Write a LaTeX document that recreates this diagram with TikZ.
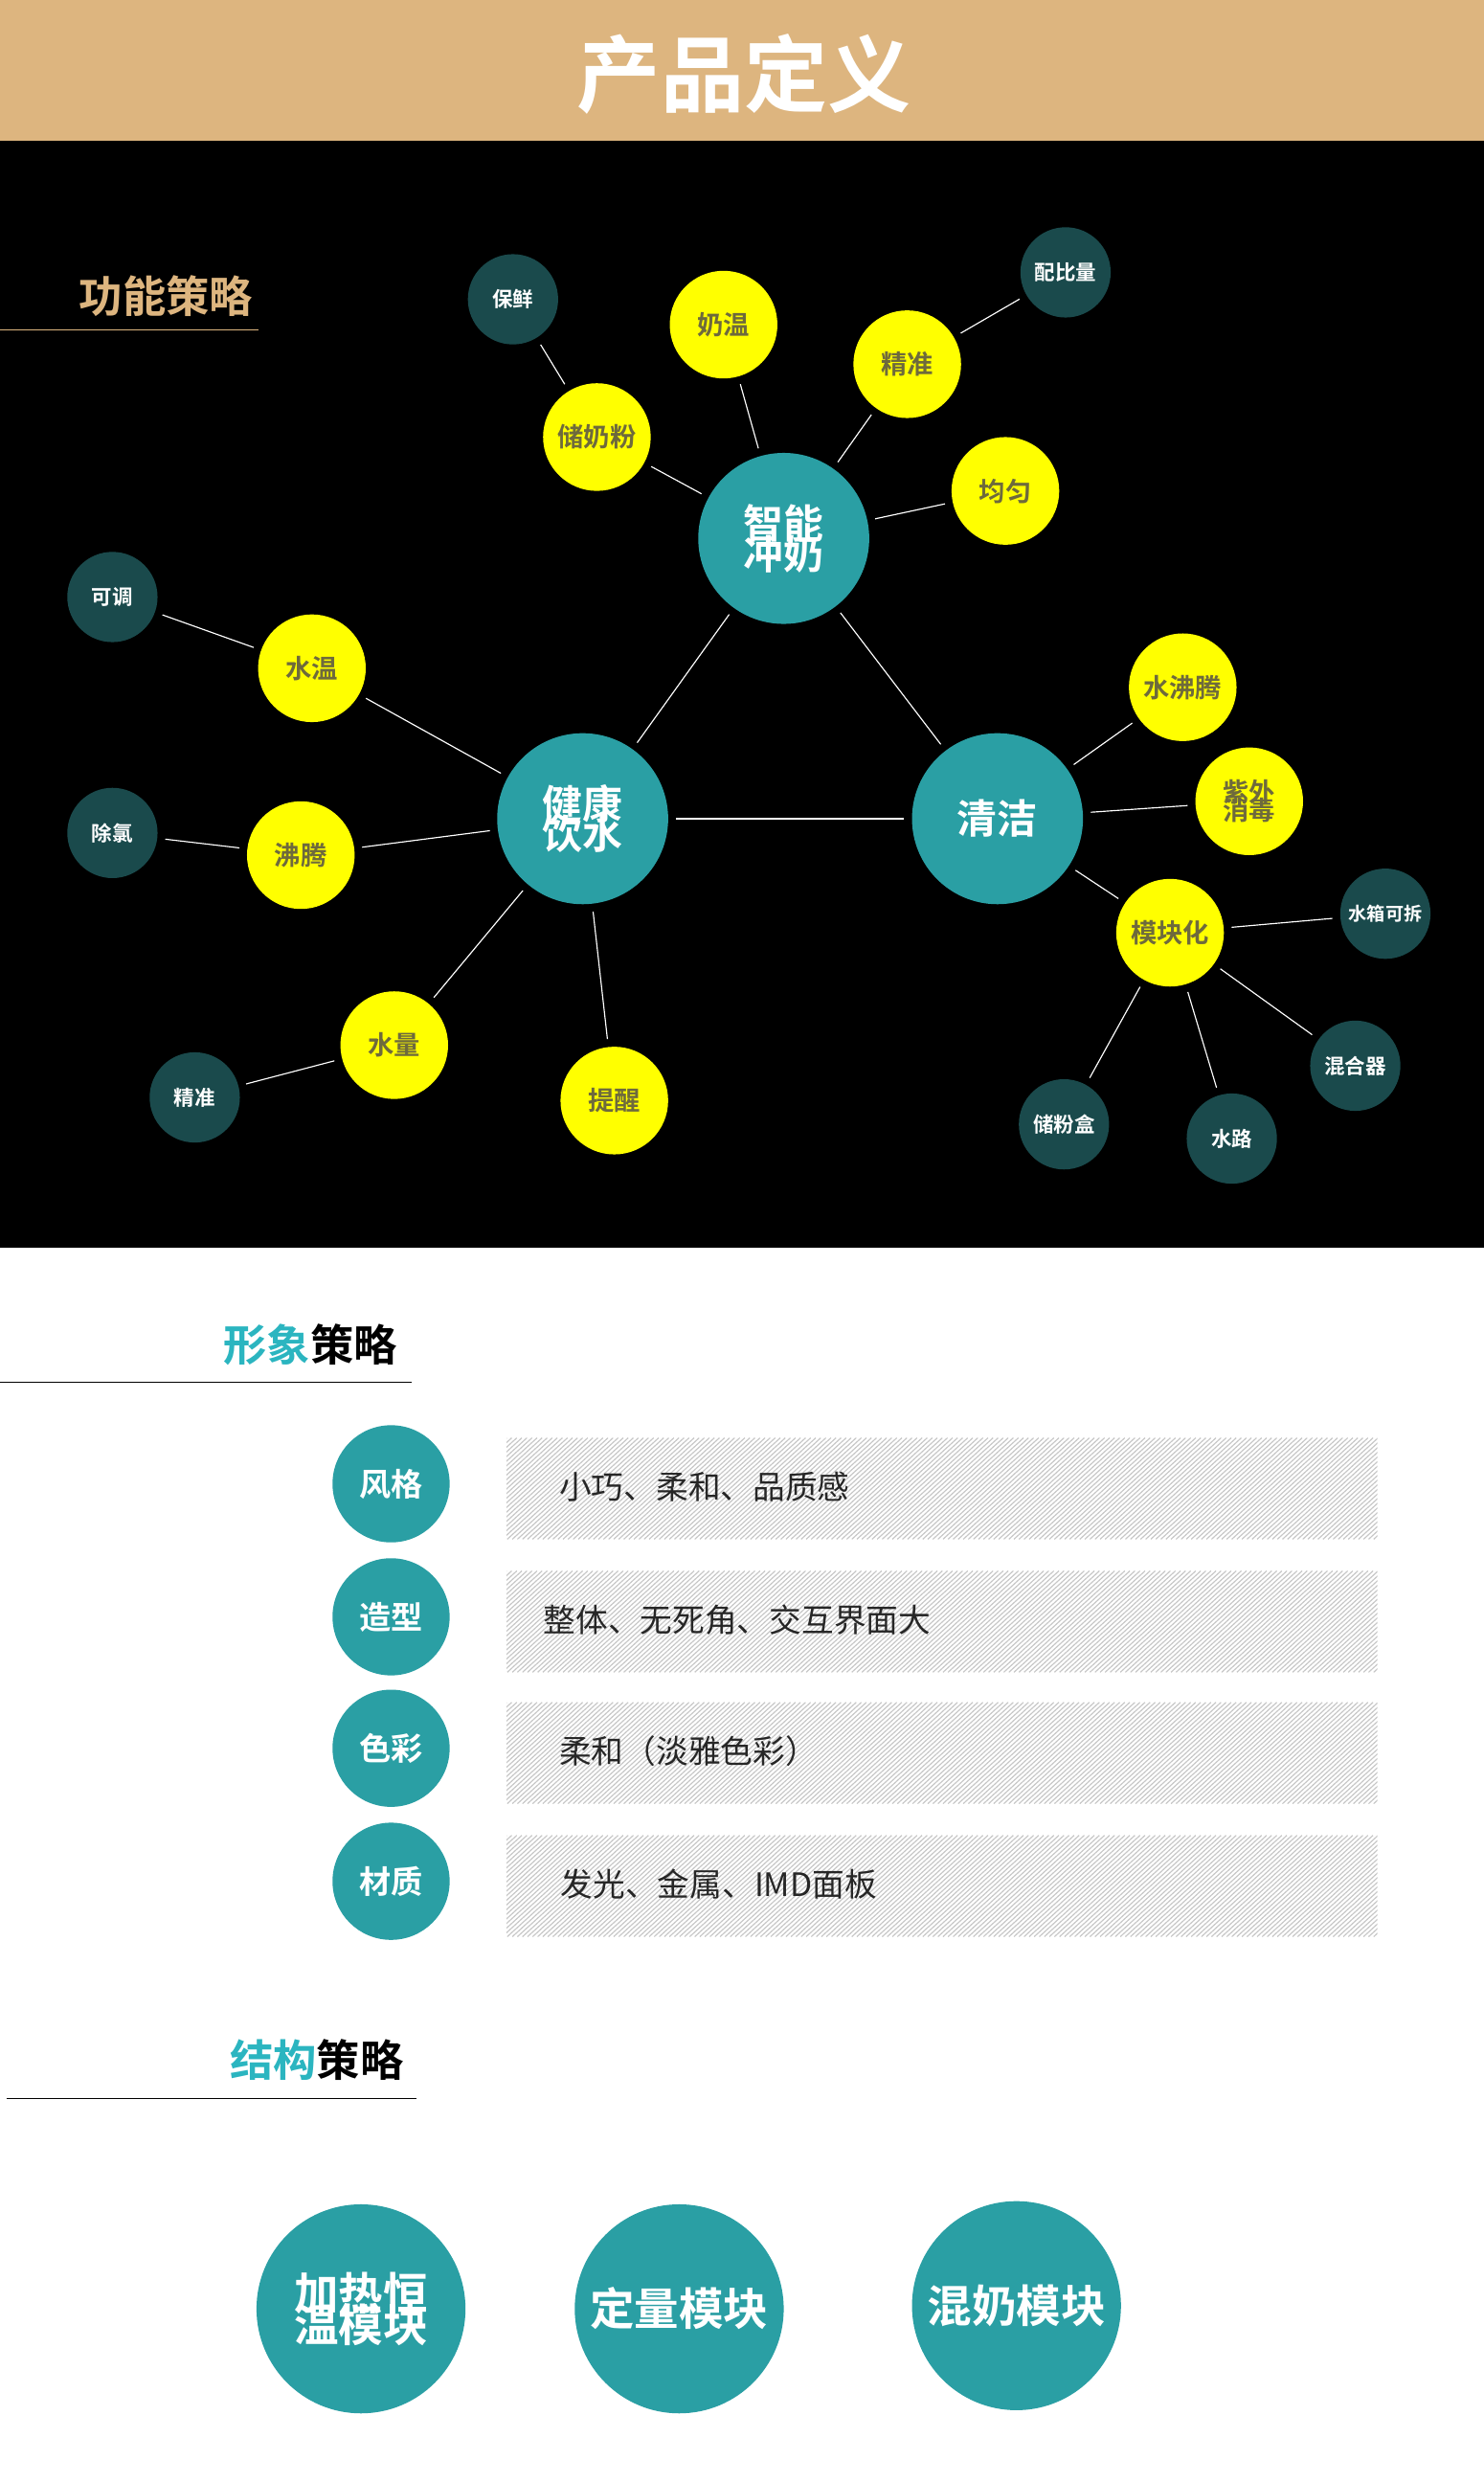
\documentclass[tikz,border=0pt]{standalone}
\usepackage{fontspec}
\setmainfont{Noto Sans CJK SC}[BoldFont={Noto Sans CJK SC Bold}]
\definecolor{tan}{HTML}{DDB57F}
\definecolor{teal}{HTML}{2A9FA4}
\definecolor{dteal}{HTML}{1A4A4C}
\definecolor{ylw}{HTML}{FFFF00}
\definecolor{ytxt}{HTML}{6E6A3C}
\definecolor{ltitle}{HTML}{2BB5C0}
\newcommand{\fsz}[1]{\fontsize{#1pt}{#1pt}\selectfont}
\begin{document}
\begin{tikzpicture}[x=1mm,y=-1mm,
 big/.style={circle,fill=teal,minimum size=108mm,inner sep=0,text=white,font=\fsz{72}\bfseries,align=center},
 yel/.style={circle,fill=ylw,minimum size=68mm,inner sep=0,text=ytxt,font=\fsz{47}\bfseries,align=center},
 drk/.style={circle,fill=dteal,minimum size=57mm,inner sep=0,text=white,font=\fsz{37}\bfseries,align=center},
 lnk/.style={draw=white,line width=0.7mm,shorten >=5mm,shorten <=5mm},
 rowc/.style={circle,fill=teal,minimum size=74mm,inner sep=0,text=white,font=\fsz{57}\bfseries},
 rowt/.style={anchor=west,font=\fsz{58},text=black!85},
 botc/.style={circle,fill=teal,minimum size=132mm,inner sep=0,text=white,font=\fsz{80}\bfseries,align=center}]
\useasboundingbox (0,0) rectangle (937,1568);
\fill[white] (0,0) rectangle (937,1568);
\fill[tan] (0,0) rectangle (937,89);
\node[text=white,font=\fsz{150}\bfseries] (title) at (470,47) {产品定义};
\fill[black] (0,89) rectangle (937,788);
\node[text=tan,font=\fsz{78}\bfseries] (t1) at (105,187) {功能策略};
\draw[tan,line width=0.5mm] (0,208) -- (163,208);
% big
\node[big] (zn) at (495,340) {智能\\[-6mm]冲奶};
\node[big] (jk) at (368,517) {健康\\[-6mm]饮水};
\node[big] (qj) at (630,517) {清洁};
% yellow
\node[yel] (nw) at (457,205) {奶温};
\node[yel] (cnf) at (377,276) {储奶粉};
\node[yel] (jz1) at (573,230) {精准};
\node[yel] (jy) at (635,310) {均匀};
\node[yel] (sw) at (197,422) {水温};
\node[yel] (ft) at (190,540) {沸腾};
\node[yel] (sl) at (249,660) {水量};
\node[yel] (tx) at (388,695) {提醒};
\node[yel] (sft) at (747,434) {水沸腾};
\node[yel] (zw) at (789,506) {紫外\\[-5mm]消毒};
\node[yel] (mk) at (739,589) {模块化};
% dark
\node[drk] (bx) at (324,189) {保鲜};
\node[drk] (pbl) at (673,172) {配比量};
\node[drk] (kt) at (71,377) {可调};
\node[drk] (cl) at (71,526) {除氯};
\node[drk] (jz2) at (123,693) {精准};
\node[drk,font=\fsz{33}\bfseries] (sxk) at (875,577) {水箱可拆};
\node[drk] (hhq) at (856,673) {混合器};
\node[drk] (cfh) at (672,710) {储粉盒};
\node[drk] (sl2) at (778,719) {水路};
% links
\foreach \a/\b in {zn/jk,zn/qj,jk/qj,zn/nw,zn/cnf,zn/jz1,zn/jy,cnf/bx,jz1/pbl,jk/sw,jk/ft,jk/sl,jk/tx,sw/kt,ft/cl,sl/jz2,qj/sft,qj/zw,qj/mk,mk/sxk,mk/hhq,mk/cfh,mk/sl2}
  \draw[lnk] (\a) -- (\b);
% section 2
\node[font=\fsz{78}\bfseries] (t2) at (196,849) {\textcolor{ltitle}{形象}策略};
\draw[black,line width=0.5mm] (0,873) -- (260,873);
\foreach \y/\nm/\txt/\tx/\id in {908/风格/小巧、柔和、品质感/352/a,992/造型/整体、无死角、交互界面大/342/b,1075/色彩/柔和（淡雅色彩）/352/c,1159/材质/发光、金属、IMD面板/353/d}{
  \begin{scope}
    \clip (320,\y) rectangle (870,\y+64);
    \fill[white] (320,\y) rectangle (870,\y+64);
    \foreach \k in {0,3.2,...,620} \draw[black!22,line width=0.7mm] (320-70+\k,\y+64) -- (320+\k,\y);
  \end{scope}
  \node[rowt] (r\id) at (\tx,\y+31) {\txt};
  \node[rowc] (c\id) at (247,\y+29) {\nm};
}
% section 3
\node[font=\fsz{78}\bfseries] (t3) at (200,1301) {\textcolor{ltitle}{结构}策略};
\draw[black,line width=0.5mm] (4,1325) -- (263,1325);
\node[botc] (b1) at (228,1458) {加热恒\\[-8mm]温模块};
\node[botc] (b2) at (429,1458) {定量模块};
\node[botc] (b3) at (642,1456) {混奶模块};
\end{tikzpicture}
\end{document}
